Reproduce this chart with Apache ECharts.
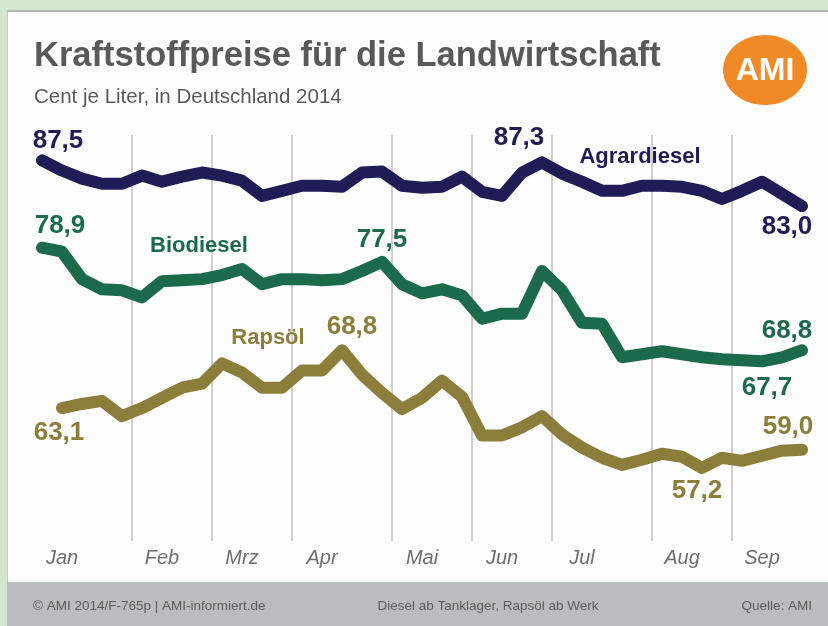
<!DOCTYPE html>
<html>
<head>
<meta charset="utf-8">
<script src="https://cdn.jsdelivr.net/npm/echarts@6/dist/echarts.min.js"></script>
<style>
  html, body { margin: 0; width: 828px; height: 626px; overflow: hidden; background: #d4e6cc; }
  #card { position: absolute; left: 7px; top: 10px; right: 0; bottom: 0; background: #fdfdfd;
          border-top: 2px solid #b4b6b8; border-left: 1px solid #c5c7c9; }
  #foot { position: absolute; left: 7px; right: 0; top: 582px; bottom: 0; background: #b9bdc2; }
  #chart { position: absolute; left: 0; top: 0; width: 828px; height: 626px; }
</style>
</head>
<body>
<div id="card"></div>
<div id="foot"></div>
<div id="chart"></div>
<script>
// Cent je Liter, one value per week (index 0..38), Jan - Sep 2014
const agrardiesel = [87.5, 86.5, 85.7, 85.2, 85.2, 86.0, 85.4, 85.9, 86.3, 86.0,
  85.5, 84.0, 84.5, 85.0, 85.0, 84.9, 86.3, 86.4, 85.0, 84.8,
  84.9, 85.9, 84.4, 84.0, 86.3, 87.3, 86.2, 85.4, 84.5, 84.5,
  85.0, 85.0, 84.9, 84.5, 83.7, 84.5, 85.4, 84.2, 83.0];
const biodiesel = [78.9, 78.5, 75.8, 74.8, 74.7, 74.0, 75.6, 75.7, 75.8, 76.2,
  76.8, 75.3, 75.8, 75.8, 75.7, 75.8, 76.6, 77.5, 75.3, 74.4,
  74.8, 74.2, 71.9, 72.4, 72.4, 76.6, 74.7, 71.5, 71.4, 68.1,
  68.4, 68.7, 68.4, 68.1, 67.9, 67.8, 67.7, 68.1, 68.8];
const rapsoel = [null, 63.1, 63.5, 63.8, 62.3, 63.1, 64.1, 65.1, 65.5, 67.5,
  66.6, 65.1, 65.1, 66.8, 66.8, 68.8, 66.4, 64.6, 63.0, 64.1,
  65.8, 64.2, 60.4, 60.4, 61.2, 62.3, 60.5, 59.2, 58.2, 57.5,
  58.0, 58.6, 58.3, 57.2, 58.2, 57.9, 58.4, 58.9, 59.0];

const monthNames = ["Jan", "Feb", "Mrz", "Apr", "Mai", "Jun", "Jul", "Aug", "Sep"];
const monthLabelAt = [1, 6, 10, 14, 19, 23, 27, 32, 36];   // week index of each month label
const monthEdges = [4.5, 8.5, 12.5, 17.5, 21.5, 25.5, 30.5, 34.5];

// texts on the lines: [week index, text (null = the value), dx, dy]
const notesAgrar = [[0, null, 16, -20], [25, null, -23, -25], [30, "Agrardiesel", -2, -29], [38, null, -15, 21]];
const notesBio = [[0, null, 18, -22], [8, "Biodiesel", -3, -33], [17, null, 0, -22], [36, null, 5, 26], [38, null, -15, -19]];
const notesRaps = [[1, null, -3, 25], [11, "Rapsöl", 6, -50], [15, null, 10, -23], [33, null, -5, 23], [38, null, -14, -23]];

const FONT = '"Liberation Sans", Arial, sans-serif';

function buildData(values, notes) {
  const out = [];
  values.forEach((v, i) => {
    if (v == null) return;
    const n = notes.find((k) => k[0] === i);
    if (!n) {
      out.push([i, v]);
      return;
    }
    out.push({
      value: [i, v],
      label: {
        show: true,
        formatter: n[1] || v.toFixed(1).replace(".", ","),
        offset: [n[2], n[3]],
        fontSize: n[1] ? 22 : 26,
      },
    });
  });
  return out;
}

function line(name, values, notes, color) {
  return {
    name: name,
    type: "line",
    data: buildData(values, notes),
    symbol: "circle",
    symbolSize: 1,
    showSymbol: true,
    clip: false,
    lineStyle: { color: color, width: 12, cap: "round", join: "round" },
    itemStyle: { color: color },
    label: {
      show: false,
      position: "inside",
      color: color,
      fontWeight: "bold",
      fontFamily: FONT,
      align: "center",
      verticalAlign: "middle",
    },
    emphasis: { disabled: true },
  };
}

const myChart = echarts.init(document.getElementById("chart"));
myChart.setOption({
  animation: false,
  title: {
    text: "Kraftstoffpreise für die Landwirtschaft",
    subtext: "Cent je Liter, in Deutschland 2014",
    left: 29,
    top: 34,
    itemGap: 13,
    textStyle: { fontFamily: FONT, fontSize: 34.5, fontWeight: "bold", color: "#58595b" },
    subtextStyle: { fontFamily: FONT, fontSize: 20.5, color: "#58595b" },
  },
  grid: { left: 42, right: 26, top: 135, bottom: 85 },
  xAxis: {
    type: "value",
    min: 0,
    max: 38,
    axisLine: { show: false },
    axisTick: { show: false, customValues: monthEdges },
    splitLine: { show: true, lineStyle: { color: "#d3cdcd", width: 2 } },
    axisLabel: {
      customValues: monthLabelAt,
      formatter: (v) => monthNames[monthLabelAt.indexOf(v)],
      fontFamily: FONT,
      fontStyle: "italic",
      fontSize: 20,
      color: "#6d6e71",
      margin: 7,
    },
  },
  yAxis: {
    type: "value",
    min: 50,
    max: 90,
    axisLine: { show: false },
    axisTick: { show: false },
    axisLabel: { show: false },
    splitLine: { show: false },
  },
  graphic: [
    { type: "ellipse", shape: { cx: 765, cy: 70, rx: 42, ry: 35 }, style: { fill: "#ef8a26" } },
    { type: "text", x: 765, y: 71, style: { text: "AMI", fill: "#fff", font: "bold 32px " + FONT, textAlign: "center", textVerticalAlign: "middle" } },
    { type: "text", x: 33, y: 606, style: { text: "© AMI 2014/F-765p | AMI-informiert.de", fill: "#5a5c5f", font: "13.5px " + FONT, textVerticalAlign: "middle" } },
    { type: "text", x: 488, y: 606, style: { text: "Diesel ab Tanklager, Rapsöl ab Werk", fill: "#5a5c5f", font: "13.5px " + FONT, textAlign: "center", textVerticalAlign: "middle" } },
    { type: "text", x: 812, y: 606, style: { text: "Quelle: AMI", fill: "#5a5c5f", font: "13.5px " + FONT, textAlign: "right", textVerticalAlign: "middle" } },
  ],
  series: [
    line("Rapsöl", rapsoel, notesRaps, "#8b7d3a"),
    line("Biodiesel", biodiesel, notesBio, "#1b6a4b"),
    line("Agrardiesel", agrardiesel, notesAgrar, "#201c56"),
  ],
});
</script>
</body>
</html>
